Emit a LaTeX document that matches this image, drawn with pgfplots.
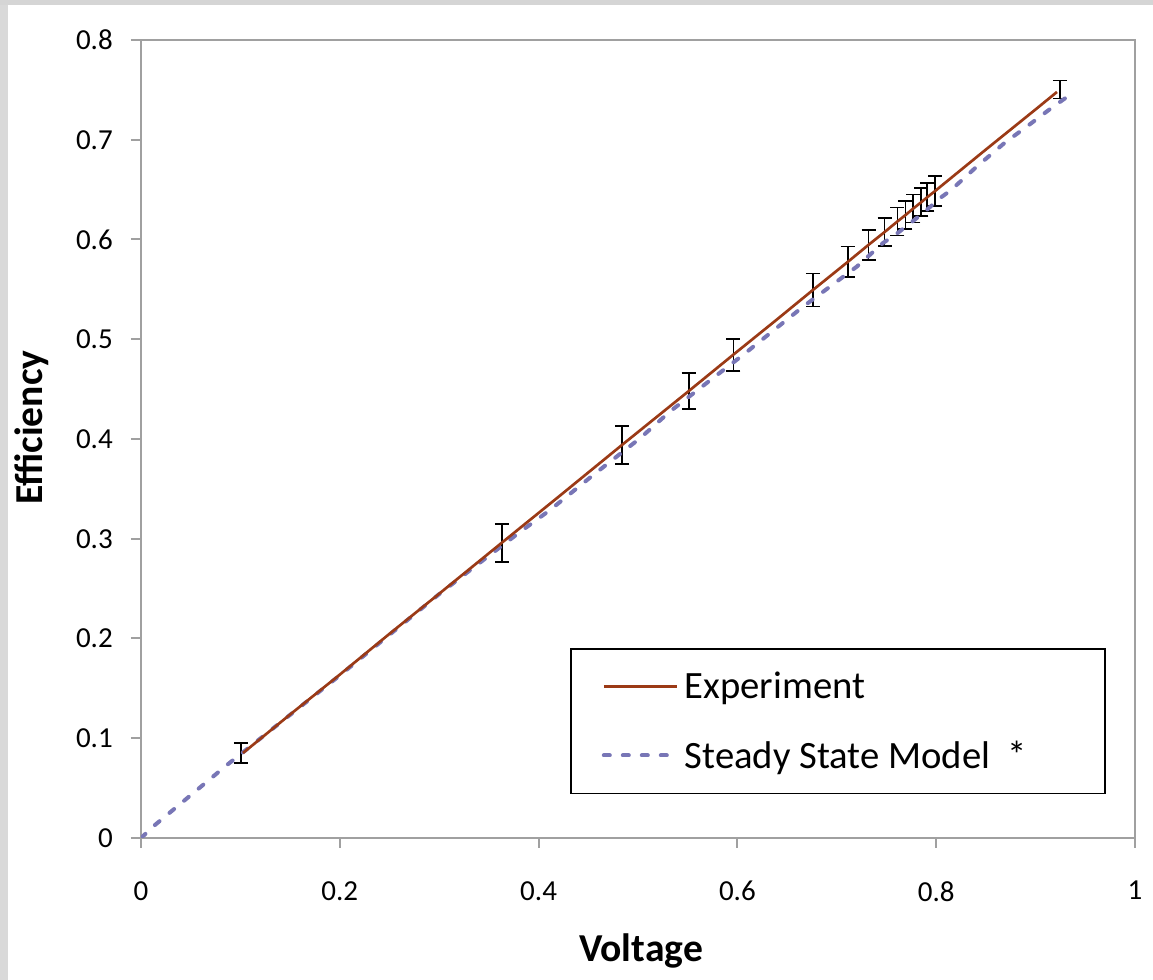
\documentclass[border=0pt]{standalone}
\usepackage{pgfplots}
\pgfplotsset{compat=1.18}
\usepackage{fontspec}
\setmainfont{Carlito}
\definecolor{expc}{RGB}{155,58,22}
\definecolor{modc}{RGB}{120,118,182}
\definecolor{axc}{RGB}{160,160,160}

\pgfplotstableread{
x y
0.1026 0.0852
0.15 0.1238
0.2 0.1638
0.25 0.2047
0.3 0.2449
0.363 0.2960
0.42 0.3420
0.484 0.3941
0.551 0.4480
0.596 0.4846
0.64 0.5200
0.676 0.5494
0.711 0.5775
0.732 0.5947
0.748 0.6074
0.761 0.6181
0.769 0.6244
0.777 0.6311
0.785 0.6374
0.791 0.6424
0.799 0.6487
0.85 0.6902
0.9 0.7304
0.9215 0.7479
}\experiment

\pgfplotstableread{
x y
0.0 0.0
0.014 0.013
0.0865 0.0732
0.2 0.163
0.3 0.2445
0.334 0.2707
0.3813 0.3068
0.4115 0.3288
0.455 0.3639
0.502 0.4007
0.532 0.4274
0.5755 0.4611
0.6056 0.4842
0.666 0.5326
0.72 0.5727
0.7465 0.5965
0.7586 0.6045
0.787 0.6266
0.804 0.6416
0.815 0.6496
0.8407 0.6730
0.869 0.6970
0.891 0.7131
0.9178 0.7332
0.9316 0.7429
}\model

\pgfplotstableread{
x y e
0.1006 0.0850 0.010
0.363 0.2959 0.019
0.484 0.3939 0.019
0.551 0.4481 0.018
0.596 0.4845 0.016
0.676 0.5493 0.0165
0.711 0.5776 0.0155
0.732 0.5946 0.015
0.748 0.6075 0.014
0.761 0.6180 0.014
0.769 0.6245 0.014
0.777 0.6310 0.014
0.785 0.6375 0.014
0.791 0.6423 0.014
0.799 0.6488 0.015
0.9245 0.7504 0.009
}\errbars

\begin{document}
\begin{tikzpicture}
\fill[white] (-105.75pt,-106.5pt) rectangle (759pt,628.5pt);
\fill[gray!30] (-105.75pt,-106.5pt) rectangle (-99.75pt,628.5pt);
\fill[gray!33] (-105.75pt,624.75pt) rectangle (759pt,628.5pt);
\path[use as bounding box] (-105.75pt,-106.5pt) rectangle (759pt,628.5pt);
\begin{axis}[
  at={(0pt,0pt)}, anchor=south west,
  scale only axis, width=745.5pt, height=598.5pt,
  xmin=0, xmax=1, ymin=0, ymax=0.8,
  xtick={0,0.2,0.4,0.6,0.8,1},
  ytick={0,0.1,0.2,0.3,0.4,0.5,0.6,0.7,0.8},
  axis line style={axc, line width=1.5pt},
  tick style={axc, line width=1.5pt},
  tick align=outside, tick pos=left, major tick length=7.5pt,
  /pgf/number format/assume math mode=true,
  ticklabel style={font=\fontsize{21.75}{24}\selectfont, text=black},
  yticklabel style={anchor=east, inner sep=0pt},
  xticklabel style={anchor=north, inner sep=0pt},
  yticklabel shift=13.5pt,
  xticklabel shift=24.75pt,
  xlabel={Voltage}, ylabel={Efficiency},
  every axis x label/.style={at={([yshift=-93pt]axis description cs:0.503,0)}, anchor=base,
    font=\bfseries\fontsize{29.7}{32}\selectfont},
  every axis y label/.style={at={([xshift=-73.5pt]axis description cs:0,0.514)}, rotate=90, anchor=base,
    font=\bfseries\fontsize{29.7}{32}\selectfont},
  legend style={at={(0.4316,0.2381)}, anchor=north west, draw=black, line width=1.2pt,
    font=\fontsize{29}{32}\selectfont,
    inner xsep=23.25pt, inner ysep=17.5pt, row sep=30pt, column sep=4.5pt,
    nodes={inner sep=0pt}},
  legend cell align=left,
  reverse legend,
  legend image code/.code={\draw[#1] (0pt,0pt) -- (54.75pt,0pt);},
]
\addplot[draw=none, mark=none, forget plot,
  error bars/.cd, y dir=both, y explicit,
  error bar style={draw=black, line width=1.3pt},
  error mark options={draw=black, line width=1.3pt, mark size=5.25pt, rotate=90}]
  table[x=x, y=y, y error=e] {\errbars};
\addplot[modc, line width=3pt, line cap=round, dash pattern=on 4.5pt off 9.75pt] table[x=x,y=y] {\model};
\addlegendentry{\makebox[291.75pt][l]{Steady State Model\ \ *}}
\addplot[expc, line width=2pt] table[x=x,y=y] {\experiment};
\addlegendentry{\makebox[291.75pt][l]{Experiment}}
\end{axis}
\end{tikzpicture}
\end{document}
